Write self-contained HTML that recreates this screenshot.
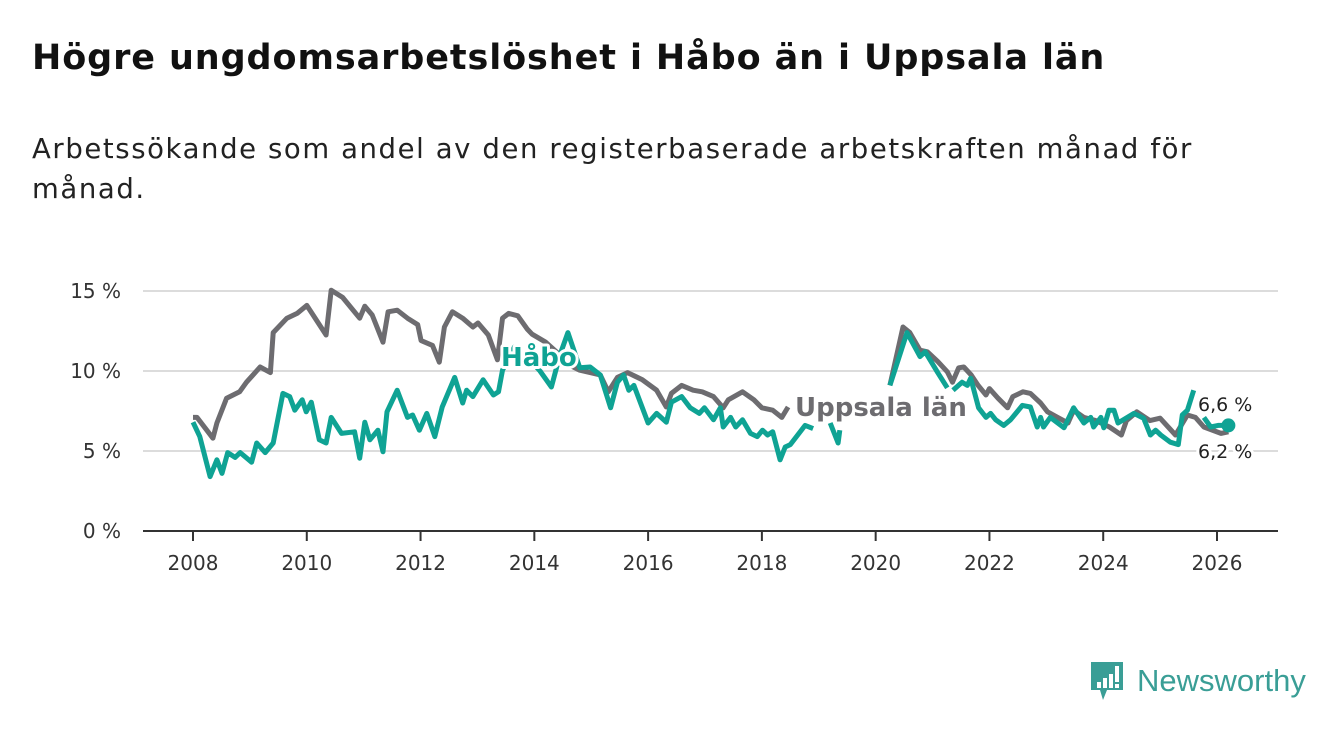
<!DOCTYPE html>
<html><head><meta charset="utf-8"><style>
body{margin:0;width:1340px;height:734px;background:#fff;font-family:"Liberation Sans",sans-serif;overflow:hidden;position:relative}
h1{position:absolute;left:32px;top:38px;margin:0;font-family:"DejaVu Sans",sans-serif;font-size:35px;font-weight:bold;color:#111;letter-spacing:0.9px;white-space:nowrap}
p{position:absolute;left:32px;top:129px;margin:0;font-family:"DejaVu Sans",sans-serif;font-size:27.5px;line-height:40px;color:#222;width:1290px;letter-spacing:1.6px}
svg{position:absolute;left:0;top:0}
</style></head><body>
<h1>Högre ungdomsarbetslöshet i Håbo än i Uppsala län</h1>
<p>Arbetssökande som andel av den registerbaserade arbetskraften månad för<br>månad.</p>
<svg id="c" width="1340" height="734"></svg>
<script>
const yTicks=[0,5,10,15];
const yTickLabels=["0 %","5 %","10 %","15 %"];
const xTicks=[2008,2010,2012,2014,2016,2018,2020,2022,2024,2026];
const uppsalaYears=[2008.0,2008.07,2008.35,2008.42,2008.59,2008.82,2008.94,2009.18,2009.36,2009.41,2009.65,2009.83,2010.0,2010.34,2010.43,2010.63,2010.93,2011.02,2011.15,2011.34,2011.43,2011.59,2011.77,2011.95,2012.01,2012.21,2012.33,2012.42,2012.56,2012.74,2012.92,2013.01,2013.19,2013.35,2013.44,2013.55,2013.71,2013.88,2013.96,2014.2,2014.45,2014.6,2014.8,2014.98,2015.16,2015.3,2015.46,2015.64,2015.9,2016.15,2016.32,2016.41,2016.59,2016.79,2016.95,2017.15,2017.32,2017.41,2017.66,2017.86,2018.0,2018.19,2018.35,2018.46,2019.3,2020.25,2020.48,2020.6,2020.78,2020.91,2021.09,2021.26,2021.35,2021.46,2021.55,2021.68,2021.8,2021.94,2022.0,2022.15,2022.32,2022.41,2022.59,2022.72,2022.9,2023.02,2023.2,2023.38,2023.48,2023.66,2023.87,2024.11,2024.32,2024.41,2024.59,2024.82,2025.0,2025.27,2025.48,2025.62,2025.77,2026.07,2026.2];
const uppsalaValues=[7.1,7.1,5.8,6.75,8.3,8.7,9.3,10.25,9.9,12.4,13.3,13.6,14.1,12.25,15.05,14.6,13.3,14.05,13.5,11.8,13.7,13.8,13.3,12.9,11.9,11.6,10.55,12.75,13.7,13.3,12.75,13.0,12.25,10.7,13.3,13.6,13.45,12.6,12.3,11.8,11.0,10.4,10.05,9.9,9.75,8.7,9.6,9.9,9.45,8.8,7.75,8.6,9.1,8.8,8.7,8.4,7.7,8.2,8.7,8.2,7.7,7.55,7.1,7.75,null,9.1,12.75,12.4,11.3,11.2,10.6,9.95,9.3,10.2,10.25,9.75,9.1,8.5,8.9,8.3,7.7,8.4,8.7,8.6,8.0,7.45,7.1,6.75,7.55,7.1,6.9,6.5,6.0,6.9,7.45,6.9,7.05,6.0,7.25,7.1,6.5,6.1,6.2];
const haboYears=[2008.0,2008.12,2008.3,2008.42,2008.51,2008.61,2008.74,2008.83,2009.03,2009.12,2009.27,2009.41,2009.58,2009.7,2009.79,2009.92,2009.99,2010.08,2010.22,2010.34,2010.43,2010.61,2010.84,2010.93,2011.02,2011.11,2011.25,2011.34,2011.41,2011.59,2011.77,2011.86,2011.98,2012.11,2012.25,2012.38,2012.6,2012.74,2012.81,2012.92,2013.1,2013.28,2013.37,2013.44,2013.65,2013.9,2014.1,2014.3,2014.45,2014.59,2014.8,2014.98,2015.16,2015.34,2015.46,2015.57,2015.66,2015.75,2016.0,2016.15,2016.32,2016.41,2016.59,2016.74,2016.9,2016.99,2017.15,2017.27,2017.32,2017.45,2017.54,2017.66,2017.8,2017.92,2018.01,2018.1,2018.19,2018.32,2018.41,2018.5,2018.76,2018.9,2019.05,2019.2,2019.34,2019.37,2019.8,2020.25,2020.55,2020.78,2020.87,2021.09,2021.26,2021.31,2021.36,2021.52,2021.61,2021.67,2021.81,2021.94,2022.02,2022.11,2022.25,2022.37,2022.58,2022.72,2022.84,2022.9,2022.95,2023.07,2023.31,2023.48,2023.66,2023.78,2023.83,2023.96,2024.01,2024.1,2024.19,2024.26,2024.54,2024.71,2024.83,2024.92,2025.01,2025.18,2025.32,2025.39,2025.48,2025.59,2025.68,2025.77,2025.89,2026.02,2026.2];
const haboValues=[6.8,5.9,3.4,4.45,3.6,4.9,4.6,4.9,4.3,5.5,4.9,5.5,8.6,8.4,7.55,8.2,7.45,8.05,5.7,5.5,7.1,6.1,6.2,4.55,6.8,5.7,6.3,4.95,7.45,8.8,7.1,7.25,6.3,7.35,5.9,7.75,9.6,8.0,8.8,8.4,9.45,8.5,8.7,10.05,11.5,10.8,10.0,9.0,11.0,12.4,10.2,10.25,9.75,7.7,9.3,9.75,8.8,9.1,6.75,7.35,6.8,8.05,8.4,7.7,7.35,7.7,6.95,7.7,6.5,7.1,6.5,6.95,6.1,5.9,6.3,6.0,6.2,4.45,5.25,5.4,6.6,6.4,null,6.75,5.5,6.3,null,9.1,12.4,10.9,11.2,9.9,8.95,null,8.8,9.3,9.1,9.55,7.7,7.1,7.35,6.95,6.6,6.95,7.85,7.75,6.5,7.1,6.5,7.1,6.45,7.7,6.75,7.1,6.5,7.1,6.45,7.55,7.55,6.75,7.35,7.05,6.0,6.3,6.0,5.55,5.4,7.25,7.55,8.8,null,7.1,6.5,6.6,6.6];
const NS="http://www.w3.org/2000/svg";
const svg=document.getElementById('c');
const X=y=>193+(y-2008)*(1024/18);
const Y=v=>531-v*16;
const FONT='DejaVu Sans, sans-serif';
function el(t,a){const e=document.createElementNS(NS,t);for(const k in a)e.setAttribute(k,a[k]);svg.appendChild(e);return e;}
yTicks.forEach((t,i)=>{
  if(t>0){const g=el('line',{x1:143,x2:1278,y1:Y(t),y2:Y(t),stroke:'#dcdcdc','stroke-width':2});
  
  }
  const l=el('text',{x:121,y:Y(t)+7,'text-anchor':'end','font-size':20,fill:'#333','font-family':FONT});
  l.textContent=yTickLabels[i];
  
  
});
const ax=el('line',{x1:143,x2:1278,y1:531,y2:531,stroke:'#333','stroke-width':2});


xTicks.forEach(t=>{
  const tk=el('line',{x1:X(t),x2:X(t),y1:531,y2:541,stroke:'#333','stroke-width':2});
  
  
  const l=el('text',{x:X(t),y:570,'text-anchor':'middle','font-size':20,fill:'#333','font-family':FONT});
  l.textContent=t;
  
  
});
function path(xs,vs){let d='',pen=false;xs.forEach((x,i)=>{const v=vs[i];if(v==null){pen=false;return;}d+=(pen?'L':'M')+X(x).toFixed(1)+','+Y(v).toFixed(1);pen=true;});return d;}
const pu=el('path',{d:path(uppsalaYears,uppsalaValues),fill:'none',stroke:'#6d6c70','stroke-width':5,'stroke-linejoin':'round'});


const ph=el('path',{d:path(haboYears,haboValues),fill:'none',stroke:'#0fa394','stroke-width':5,'stroke-linejoin':'round'});


const lastH=haboValues[haboValues.length-1],lastU=uppsalaValues[uppsalaValues.length-1];
const dot=el('circle',{cx:X(haboYears[haboYears.length-1]),cy:Y(lastH),r:7,fill:'#0fa394'});


function lab(txt,x,y,fill,bold,size,name){const t=el('text',{x:x,y:y,'font-size':size,fill:fill,'font-weight':bold?'bold':'normal',stroke:'#fff','stroke-width':6,'paint-order':'stroke','stroke-linejoin':'round','font-family':FONT});t.textContent=txt;

}
lab('Håbo',501,366,'#0fa394',true,26,'habo-label');
lab('Uppsala län',795,416,'#6d6c70',true,26,'uppsala-lan-label');
lab(lastH.toFixed(1).replace('.',',')+' %',1198,411,'#222',false,19,'habo-end-value');
lab(lastU.toFixed(1).replace('.',',')+' %',1198,458,'#222',false,19,'uppsala-end-value');
</script>
<div style="position:absolute;left:1089px;top:660px;display:flex;align-items:center">
<svg width="36" height="42" style="position:static"><path d="M2,2H34V30H18L14,40L11,30H2Z" fill="#3a9e96"/><rect x="8" y="22" width="4" height="6" fill="#fff"/><rect x="14" y="18" width="4" height="10" fill="#fff"/><rect x="20" y="14" width="4" height="14" fill="#fff"/><rect x="26" y="6" width="4" height="16" fill="#fff"/><rect x="26" y="24" width="4" height="4" fill="#fff"/></svg>
<span style="font-size:31px;color:#3a9e96;margin-left:12px;font-weight:500">Newsworthy</span>
</div>
</body></html>
